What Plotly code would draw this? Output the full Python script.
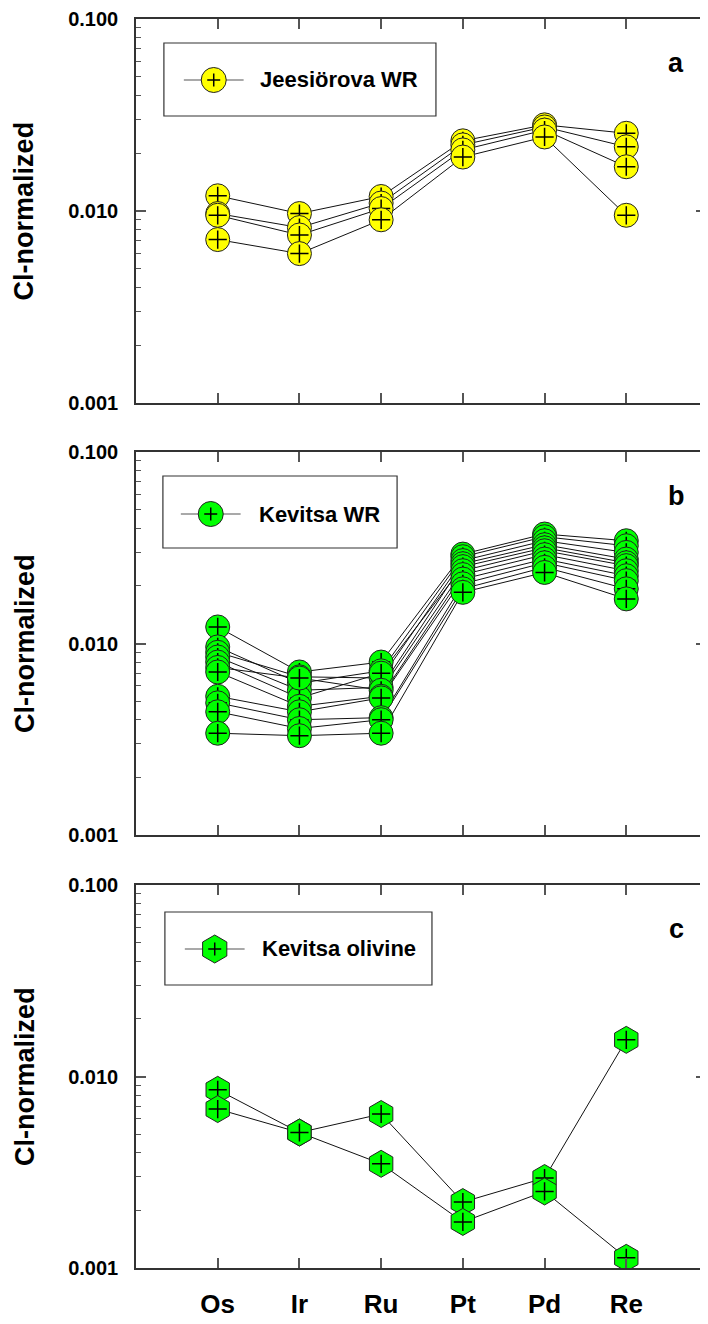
import plotly.graph_objects as go

# ---------------- data ----------------
elements = ["Os", "Ir", "Ru", "Pt", "Pd", "Re"]
xpos = [0, 1, 2, 3, 4, 5]

jeesiorova_wr = [
    [0.0120, 0.0097, 0.0119, 0.0232, 0.0281, 0.0254],
    [0.0097, 0.0082, 0.0110, 0.0221, 0.0274, 0.0216],
    [0.0095, 0.0075, 0.0103, 0.0208, 0.0264, 0.0170],
    [0.0071, 0.0060, 0.0090, 0.0191, 0.0243, 0.0095],
]

kevitsa_wr = [
    [0.0122, 0.0071, 0.0080, 0.0293, 0.0373, 0.0344],
    [0.0096, 0.0062, 0.0072, 0.0284, 0.0361, 0.0324],
    [0.0090, 0.0067, 0.0066, 0.0271, 0.0344, 0.0299],
    [0.0085, 0.0057, 0.0059, 0.0261, 0.0328, 0.0276],
    [0.0080, 0.0052, 0.0070, 0.0252, 0.0316, 0.0264],
    [0.0075, 0.0066, 0.0057, 0.0240, 0.0305, 0.0255],
    [0.0071, 0.0047, 0.0053, 0.0229, 0.0291, 0.0240],
    [0.0053, 0.0044, 0.0052, 0.0217, 0.0276, 0.0226],
    [0.0049, 0.0040, 0.0041, 0.0205, 0.0264, 0.0213],
    [0.0044, 0.0036, 0.0040, 0.0193, 0.0250, 0.0193],
    [0.0034, 0.0033, 0.0034, 0.0185, 0.0235, 0.0171],
]

kevitsa_olivine = [
    [0.00852, 0.00510, 0.00637, 0.00221, 0.00295, 0.01554],
    [0.00676, 0.00510, 0.00350, 0.00174, 0.00251, 0.00113],
]

y_tickvals = [0.001, 0.01, 0.1]
y_ticktext = ["0.001", "0.010", "0.100"]
minor_vals = [m * d for d in (0.001, 0.01) for m in range(2, 10)]

panel_names = ["Jeesiörova WR", "Kevitsa WR", "Kevitsa olivine"]
panel_letters = ["a", "b", "c"]
panel_fill = ["#FFFF00", "#00FF00", "#00FF00"]
panel_symbol = ["circle", "circle", "hexagon"]

# ---------------- layout geometry ----------------
# The page body has an 8px margin, so the figure is drawn 8px in from the
# window's top-left corner; positions below are given in window pixels.
OFF = 8
W, H = 708 - OFF, 1324 - OFF
ML, MR, MT = 136 - OFF, 0, 19 - OFF
MB = H - (1268 - OFF)
PW = W - ML - MR
PH = H - MT - MB


def px_x(px):
    return (px - OFF - ML) / PW


def px_y(py):
    return (H - MB - (py - OFF)) / PH


panel_px = [(19, 403), (452, 835), (885, 1268)]
domains = [[max(0.0, px_y(b)), min(1.0, px_y(t))] for (t, b) in panel_px]

FONT = "Liberation Sans, Arial, sans-serif"
AX = "#333333"

fig = go.Figure()

datasets = [jeesiorova_wr, kevitsa_wr, kevitsa_olivine]
for i, data in enumerate(datasets):
    xa = "x" if i == 0 else f"x{i+1}"
    ya = "y" if i == 0 else f"y{i+1}"
    msize = 27 if panel_symbol[i] == "hexagon" else 24
    for s in data:
        fig.add_trace(go.Scatter(x=xpos, y=s, mode="lines", xaxis=xa, yaxis=ya,
                                 line=dict(color="#111111", width=1),
                                 showlegend=False, hoverinfo="skip"))
    for s in data:
        fig.add_trace(go.Scatter(x=xpos, y=s, mode="markers", xaxis=xa, yaxis=ya,
                                 marker=dict(symbol=panel_symbol[i], size=msize,
                                             color=panel_fill[i],
                                             line=dict(color="#222222", width=1)),
                                 showlegend=False))
        fig.add_trace(go.Scatter(x=xpos, y=s, mode="markers", xaxis=xa, yaxis=ya,
                                 marker=dict(symbol="cross-thin", size=13,
                                             line=dict(color="#000000", width=1.5)),
                                 showlegend=False, hoverinfo="skip"))

layout = dict(
    width=W, height=H,
    margin=dict(l=ML, r=MR, t=MT, b=MB, pad=0),
    paper_bgcolor="white", plot_bgcolor="white",
    showlegend=False,
    font=dict(family=FONT, color="black"),
)

for i in range(3):
    xk = "xaxis" if i == 0 else f"xaxis{i+1}"
    yk = "yaxis" if i == 0 else f"yaxis{i+1}"
    ya = "y" if i == 0 else f"y{i+1}"
    xa = "x" if i == 0 else f"x{i+1}"
    layout[xk] = dict(
        domain=[0, 1], anchor=ya, range=[-1, PW / 82 - 1],
        tickmode="array", tickvals=xpos, ticktext=elements,
        showticklabels=(i == 2),
        ticks="inside", ticklen=10, tickwidth=1.5, tickcolor="#555555",
        showline=True, linecolor=AX, linewidth=1.5, mirror="ticks",
        showgrid=False, zeroline=False,
        tickfont=dict(family=FONT, size=26, weight="bold", color="black"),
        ticklabelstandoff=12,
    )
    layout[yk] = dict(
        domain=domains[i], anchor=xa, type="log", range=[-3, -1],
        tickmode="array", tickvals=y_tickvals, ticktext=y_ticktext,
        ticks="inside", ticklen=10, tickwidth=1.5, tickcolor="#555555",
        minor=dict(tickmode="array", tickvals=minor_vals, ticks="inside",
                   ticklen=5, tickwidth=1, tickcolor="#555555", showgrid=False),
        showline=True, linecolor=AX, linewidth=1.5, mirror="ticks",
        showgrid=False, zeroline=False,
        tickfont=dict(family=FONT, size=20, weight="bold", color="black"),
        ticklabelstandoff=12,
    )

fig.update_layout(**layout)

# ---------------- legends (drawn manually), titles, panel letters ----------------
legend_boxes = [(164, 437, 43, 116), (163, 398, 476, 548), (165, 433, 912, 985)]
legend_marker = [(214, 80), (211, 514), (215, 949)]
legend_text_x = [258, 257, 260]

shapes = []
annotations = []
for i in range(3):
    x0, x1, y0, y1 = legend_boxes[i]
    shapes.append(dict(type="rect", xref="paper", yref="paper",
                       x0=px_x(x0), x1=px_x(x1), y0=px_y(y1), y1=px_y(y0),
                       line=dict(color="#333333", width=1.2), fillcolor="white",
                       layer="below"))
    mx, my = legend_marker[i]
    shapes.append(dict(type="line", xref="paper", yref="paper",
                       x0=px_x(mx - 30), x1=px_x(mx + 30), y0=px_y(my), y1=px_y(my),
                       line=dict(color="#555555", width=1.2)))
    if panel_symbol[i] == "circle":
        shapes.append(dict(type="circle", xref="paper", yref="paper",
                           xsizemode="pixel", ysizemode="pixel",
                           xanchor=px_x(mx), yanchor=px_y(my),
                           x0=-12.5, x1=12.5, y0=-12.5, y1=12.5,
                           fillcolor=panel_fill[i], line=dict(color="#222222", width=1)))
    else:
        shapes.append(dict(type="path", xref="paper", yref="paper",
                           xsizemode="pixel", ysizemode="pixel",
                           xanchor=px_x(mx), yanchor=px_y(my),
                           path="M0,14 L12.1,7 L12.1,-7 L0,-14 L-12.1,-7 L-12.1,7 Z",
                           fillcolor=panel_fill[i], line=dict(color="#222222", width=1)))
    shapes.append(dict(type="path", xref="paper", yref="paper",
                       xsizemode="pixel", ysizemode="pixel",
                       xanchor=px_x(mx), yanchor=px_y(my),
                       path="M-6.5,0 L6.5,0 M0,-6.5 L0,6.5",
                       line=dict(color="black", width=1.5)))
    annotations.append(dict(text=panel_names[i], xref="paper", yref="paper",
                            x=px_x(legend_text_x[i]), y=px_y(my), xanchor="left",
                            yanchor="middle", showarrow=False,
                            font=dict(family=FONT, size=22, weight="bold", color="black")))
    t, b = panel_px[i]
    annotations.append(dict(text="Cl-normalized", xref="paper", yref="paper",
                            x=px_x(24), y=px_y((t + b) / 2), textangle=-90,
                            xanchor="center", yanchor="middle", showarrow=False,
                            font=dict(family=FONT, size=27, weight="bold", color="black")))
    annotations.append(dict(text=panel_letters[i], xref="paper", yref="paper",
                            x=px_x(678), y=px_y(t + 44), xanchor="center",
                            yanchor="middle", showarrow=False,
                            font=dict(family=FONT, size=27, weight="bold", color="black")))

fig.update_layout(shapes=shapes, annotations=annotations)

fig.write_html("out.html")
